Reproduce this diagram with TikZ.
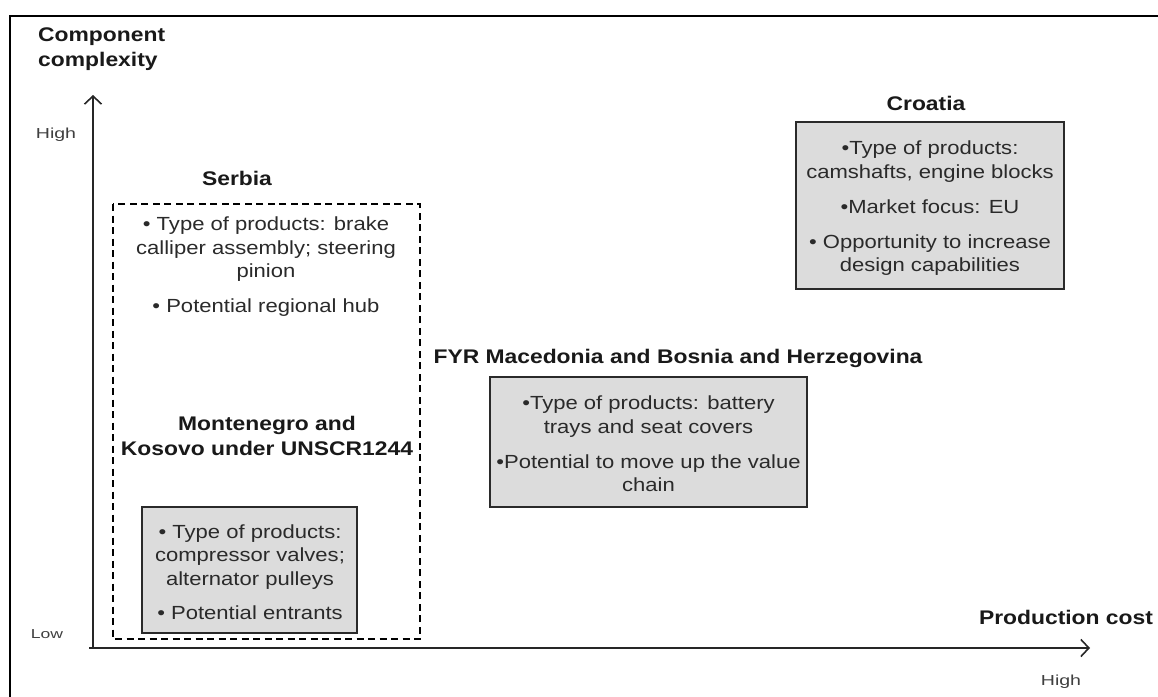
\documentclass[tikz,border=0pt]{standalone}
\usepackage{fontspec}
\setmainfont[FakeStretch=1.16]{Liberation Sans}
\newfontfamily\labelfont[FakeStretch=1.35]{Liberation Sans}
\usetikzlibrary{arrows.meta}
\definecolor{boxfill}{HTML}{DCDCDC}
\definecolor{boxline}{HTML}{2A2A2A}
\definecolor{bodytext}{HTML}{2A2A2A}
\tikzset{
  title/.style={font=\bfseries\fontsize{19.7}{24.5}\selectfont, text=black!90, align=center, inner sep=0pt},
  body/.style={font=\fontsize{19}{23.5}\selectfont, text=bodytext, align=center, inner sep=0pt},
  greybox/.style={draw=boxline, line width=1.6pt, fill=boxfill, inner sep=0pt},
  axis/.style={line width=1.8pt, draw=black!85, -{Straight Barb[length=8pt,width=17pt,line width=1.6pt]}},
  tick/.style={font=\labelfont\fontsize{14.5}{16}\selectfont, text=black!75, inner sep=0pt},
  region/.style={dashed, line width=1.5pt, dash pattern=on 7pt off 4.5pt},
}
\begin{document}
\begin{tikzpicture}[x=1pt, y=-1pt]
\useasboundingbox (0,0) rectangle (1158,696);
\clip (0,0) rectangle (1158,696);
\fill[white] (0,0) rectangle (1158,696);

% outer frame
\draw[line width=2.6pt] (10,720) -- (10,16) -- (1180,16);

% axes
\coordinate (origin) at (93,648);
\coordinate (xstart) at (89,648);
\coordinate (ytip) at (93,95);
\coordinate (xtip) at (1090,648);
\draw[axis] (origin) -- (ytip);
\draw[axis] (xstart) -- (xtip);

\node[title, align=left, anchor=west] (ylabel) at (38,49) {Component\\complexity};
\node[title] (xlabel) at (1066,617) {Production cost};
\node[tick] (yhigh) at (56,135) {High};
\node[tick, font=\labelfont\fontsize{13}{15}\selectfont] (ylow) at (47,634) {Low};
\node[tick] (xhigh) at (1061,682) {High};

% Serbia region
\node[title] (serbiatitle) at (237,178) {Serbia};
\draw[region] (113,204) rectangle (420,639);
\node[body] (serbia) at (266,267) {• Type of products: brake\\calliper assembly; steering\\pinion\\[11.5pt]• Potential regional hub};

% Montenegro and Kosovo
\node[title] (montitle) at (267,436) {Montenegro and\\Kosovo under UNSCR1244};
\node[greybox, minimum width=215pt, minimum height=126pt] (mon) at (249.5,570) {};
\node[body] (montext) at (250,572)
  {• Type of products:\\compressor valves;\\alternator pulleys\\[10.5pt]• Potential entrants};

% FYR Macedonia and Bosnia and Herzegovina
\node[title] (fyrtitle) at (678,358) {FYR Macedonia and Bosnia and Herzegovina};
\node[greybox, minimum width=317pt, minimum height=130pt] (fyr) at (648.5,442) {};
\node[body] (fyrtext) at (648.5,444)
  {•Type of products: battery\\trays and seat covers\\[11.5pt]•Potential to move up the value\\chain};

% Croatia
\node[title] (crotitle) at (926,103) {Croatia};
\node[greybox, minimum width=268pt, minimum height=167pt] (cro) at (930,205.5) {};
\node[body] (crotext) at (930,208.5)
  {•Type of products:\\camshafts, engine blocks\\[12pt]•Market focus: EU\\[11pt]• Opportunity to increase\\design capabilities};
\end{tikzpicture}
\end{document}
